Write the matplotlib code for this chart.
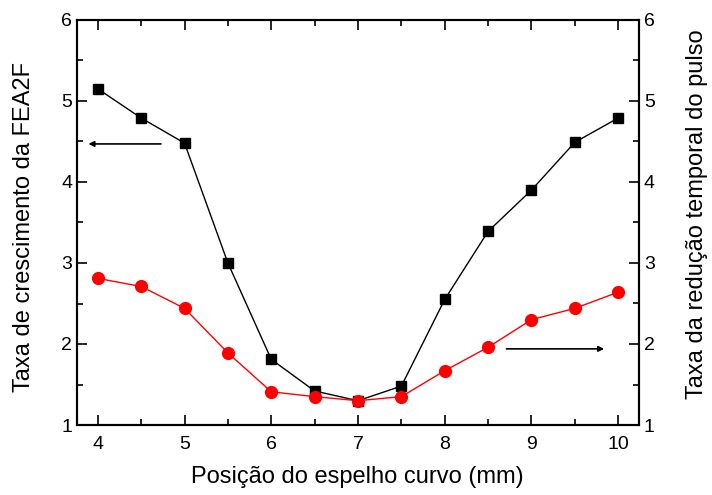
import matplotlib
matplotlib.use("Agg")
import matplotlib.pyplot as plt
from matplotlib.ticker import MultipleLocator

plt.rcParams["font.family"] = ["Liberation Sans", "DejaVu Sans"]

posicao = [4, 4.5, 5, 5.5, 6, 6.5, 7, 7.5, 8, 8.5, 9, 9.5, 10]
cresc_fea2f = [5.15, 4.79, 4.48, 3.0, 1.81, 1.42, 1.30, 1.48, 2.55, 3.39, 3.90, 4.49, 4.79]
reducao_pulso = [2.81, 2.71, 2.44, 1.89, 1.41, 1.35, 1.30, 1.35, 1.67, 1.96, 2.30, 2.44, 2.64]

fig = plt.figure(figsize=(7.12, 4.95), dpi=100)
ax = fig.add_axes([77 / 712, 70 / 495, (639 - 77) / 712, (425 - 20) / 495])
ax2 = ax.twinx()

ax.plot(posicao, cresc_fea2f, "-s", color="black", lw=1, ms=7, zorder=3)
ax2.plot(posicao, reducao_pulso, "-o", color="red", lw=1, ms=8.5, zorder=3)

for a in (ax, ax2):
    a.set_xlim(3.76, 10.24)
    a.set_ylim(1, 6)
    a.yaxis.set_major_locator(MultipleLocator(1))
    a.yaxis.set_minor_locator(MultipleLocator(0.5))
    a.tick_params(which="both", direction="in", labelsize=14, width=1.2)
    a.tick_params(which="major", length=7)
    a.tick_params(which="minor", length=4)
    for s in a.spines.values():
        s.set_linewidth(1.5)

ax.xaxis.set_major_locator(MultipleLocator(1))
ax.xaxis.set_minor_locator(MultipleLocator(0.5))
ax.tick_params(which="both", top=True)
ax.tick_params(axis="x", pad=8)

ax.set_xlabel("Posição do espelho curvo (mm)", fontsize=17)
ax.set_ylabel("Taxa de crescimento da FEA2F", fontsize=17)
ax2.set_ylabel("Taxa da redução temporal do pulso", fontsize=17)
ax.xaxis.set_label_coords(0.499, -0.10)
ax.yaxis.set_label_coords(-0.075, 0.49)
ax2.yaxis.set_label_coords(1.083, 0.52)

ax.annotate("", xy=(3.86, 4.47), xytext=(4.76, 4.47),
            arrowprops=dict(arrowstyle="-|>", color="black", lw=1.2, mutation_scale=8))
ax2.annotate("", xy=(9.87, 1.94), xytext=(8.68, 1.94),
             arrowprops=dict(arrowstyle="-|>", color="black", lw=1.2, mutation_scale=8))

fig.savefig("out.png", dpi=100)
